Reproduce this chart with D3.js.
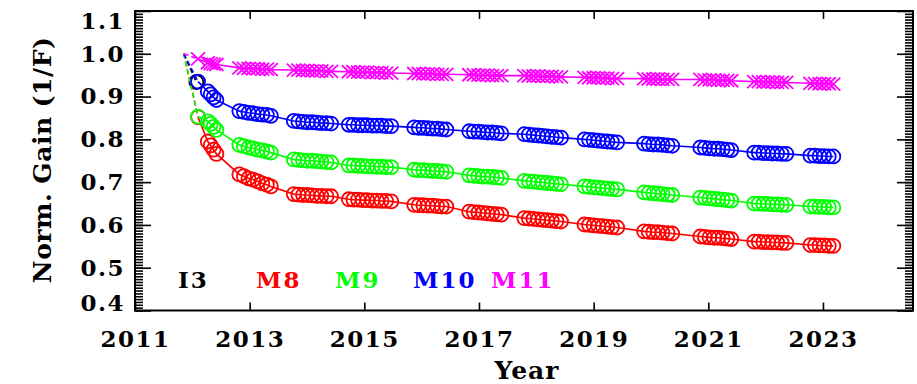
<!DOCTYPE html>
<html>
<head>
<meta charset="utf-8">
<script src="https://cdn.jsdelivr.net/npm/d3@7"></script>
<style>
body { margin: 0; background: #fff; }
svg text { font-family: "DejaVu Serif", serif; font-weight: bold; }
</style>
</head>
<body>
<script>
// launch point, all bands start at 1.0
var launchDate = 2011.85;
var launchGain = 1.0;

// lunar calibration dates (shared by all M bands), one line per season
var obsDates = [
    2012.10,
    2012.27, 2012.32, 2012.37, 2012.42,
    2012.82, 2012.90, 2012.98, 2013.06, 2013.14, 2013.22, 2013.30, 2013.37,
    2013.77, 2013.85, 2013.93, 2014.01, 2014.09, 2014.17, 2014.25, 2014.34, 2014.42,
    2014.73, 2014.81, 2014.89, 2014.97, 2015.05, 2015.14, 2015.22, 2015.30, 2015.38, 2015.47,
    2015.87, 2015.95, 2016.03, 2016.11, 2016.19, 2016.27, 2016.35, 2016.43,
    2016.83, 2016.91, 2016.99, 2017.07, 2017.15, 2017.23, 2017.31, 2017.39,
    2017.79, 2017.87, 2017.95, 2018.03, 2018.11, 2018.19, 2018.27, 2018.35, 2018.43,
    2018.84, 2018.92, 2019.00, 2019.08, 2019.16, 2019.24, 2019.32, 2019.41,
    2019.88, 2019.96, 2020.04, 2020.12, 2020.20, 2020.29, 2020.37,
    2020.86, 2020.94, 2021.02, 2021.10, 2021.17, 2021.25, 2021.33, 2021.40,
    2021.80, 2021.88, 2021.96, 2022.04, 2022.12, 2022.20, 2022.28, 2022.36,
    2022.78, 2022.86, 2022.94, 2023.02, 2023.10, 2023.18
];

var gainM8 = [
    0.852,
    0.795, 0.786, 0.776, 0.766,
    0.718, 0.714, 0.709, 0.706, 0.702, 0.697, 0.694, 0.690,
    0.672, 0.671, 0.670, 0.670, 0.669, 0.668, 0.668, 0.667, 0.667,
    0.660, 0.659, 0.659, 0.658, 0.658, 0.657, 0.657, 0.656, 0.656, 0.655,
    0.647, 0.646, 0.646, 0.645, 0.645, 0.644, 0.643, 0.643,
    0.631, 0.630, 0.629, 0.628, 0.627, 0.626, 0.625, 0.624,
    0.616, 0.615, 0.614, 0.613, 0.612, 0.611, 0.610, 0.609, 0.608,
    0.601, 0.600, 0.599, 0.598, 0.597, 0.596, 0.595, 0.594,
    0.585, 0.584, 0.583, 0.583, 0.582, 0.581, 0.580,
    0.573, 0.572, 0.571, 0.570, 0.570, 0.569, 0.568, 0.567,
    0.561, 0.561, 0.560, 0.560, 0.559, 0.559, 0.558, 0.558,
    0.553, 0.553, 0.552, 0.552, 0.551, 0.551
];

var gainM9 = [
    0.853,
    0.842, 0.836, 0.829, 0.822,
    0.787, 0.784, 0.781, 0.779, 0.776, 0.774, 0.772, 0.769,
    0.753, 0.752, 0.751, 0.750, 0.750, 0.749, 0.748, 0.747, 0.746,
    0.739, 0.739, 0.738, 0.738, 0.737, 0.737, 0.736, 0.736, 0.735, 0.735,
    0.729, 0.728, 0.728, 0.727, 0.726, 0.726, 0.725, 0.724,
    0.716, 0.715, 0.714, 0.713, 0.713, 0.712, 0.711, 0.710,
    0.703, 0.702, 0.701, 0.700, 0.699, 0.698, 0.697, 0.696, 0.695,
    0.690, 0.689, 0.688, 0.687, 0.686, 0.685, 0.684, 0.683,
    0.676, 0.675, 0.674, 0.673, 0.672, 0.671, 0.670,
    0.664, 0.663, 0.662, 0.661, 0.660, 0.659, 0.658, 0.657,
    0.650, 0.650, 0.649, 0.649, 0.648, 0.648, 0.647, 0.647,
    0.643, 0.643, 0.642, 0.642, 0.641, 0.641
];

var gainM10 = [
    0.935,
    0.912, 0.905, 0.898, 0.892,
    0.866, 0.864, 0.862, 0.861, 0.859, 0.858, 0.857, 0.855,
    0.843, 0.842, 0.841, 0.840, 0.840, 0.839, 0.838, 0.838, 0.837,
    0.834, 0.834, 0.833, 0.833, 0.833, 0.832, 0.832, 0.832, 0.831, 0.831,
    0.828, 0.827, 0.827, 0.826, 0.825, 0.825, 0.824, 0.823,
    0.819, 0.818, 0.818, 0.817, 0.816, 0.816, 0.815, 0.814,
    0.812, 0.811, 0.810, 0.809, 0.808, 0.807, 0.806, 0.805, 0.804,
    0.800, 0.799, 0.798, 0.797, 0.796, 0.795, 0.794, 0.793,
    0.790, 0.789, 0.788, 0.788, 0.787, 0.786, 0.785,
    0.781, 0.780, 0.779, 0.778, 0.778, 0.777, 0.776, 0.775,
    0.769, 0.769, 0.768, 0.768, 0.767, 0.767, 0.766, 0.766,
    0.762, 0.762, 0.761, 0.761, 0.760, 0.760
];

var gainM11 = [
    0.988,
    0.979, 0.977, 0.976, 0.975,
    0.967, 0.966, 0.966, 0.965, 0.965, 0.964, 0.964, 0.963,
    0.962, 0.962, 0.961, 0.961, 0.960, 0.960, 0.960, 0.959, 0.959,
    0.958, 0.958, 0.957, 0.957, 0.957, 0.956, 0.956, 0.956, 0.955, 0.955,
    0.954, 0.954, 0.953, 0.953, 0.953, 0.952, 0.952, 0.952,
    0.951, 0.951, 0.950, 0.950, 0.950, 0.949, 0.949, 0.949,
    0.949, 0.948, 0.948, 0.948, 0.947, 0.947, 0.947, 0.946, 0.946,
    0.945, 0.944, 0.944, 0.944, 0.943, 0.943, 0.942, 0.942,
    0.942, 0.941, 0.941, 0.941, 0.940, 0.940, 0.940,
    0.940, 0.939, 0.939, 0.939, 0.938, 0.938, 0.938, 0.937,
    0.935, 0.935, 0.934, 0.934, 0.934, 0.933, 0.933, 0.933,
    0.931, 0.931, 0.930, 0.930, 0.930, 0.929
];

// I3 only shows its first point (the rest sits under M10)
var i3Dates = [2012.07];
var gainI3 = [0.934];

var bandNames = ["I3", "M8", "M9", "M10", "M11"];
var xTickValues = [2011, 2013, 2015, 2017, 2019, 2021, 2023];
var yTickValues = [0.4, 0.5, 0.6, 0.7, 0.8, 0.9, 1.0, 1.1];

// styles
var colors = { I3: "#000000", M8: "#ff0000", M9: "#00ff00", M10: "#0000ff", M11: "#ff00ff" };
var W = 917, H = 384;
var plotL = 135, plotR = 913, plotT = 11, plotB = 310.5;

var xScale = d3.scaleLinear().domain([2011, 2024.57]).range([plotL, plotR]);
var yScale = d3.scaleLinear().domain([0.4, 1.1]).range([plotB, plotT]);

var svg = d3.select("body").append("svg")
    .attr("width", W)
    .attr("height", H);

// minor y ticks
var yMinor = d3.range(0, 106).map(function (i) { return 0.4 + i * (0.1 / 15); })
    .filter(function (v) { return v < 1.1; });

function styleAxis(g) {
    g.select(".domain").remove();
    g.selectAll("line").attr("stroke", "#000").attr("stroke-width", 1.6);
    g.selectAll("text").attr("fill", "#000").attr("font-size", 23)
        .style("letter-spacing", "1.5px");
}

svg.append("g").attr("transform", "translate(" + plotL + ",0)")
    .call(d3.axisLeft(yScale).tickValues(yMinor).tickSize(-8).tickFormat(""))
    .call(styleAxis);
svg.append("g").attr("transform", "translate(" + plotR + ",0)")
    .call(d3.axisRight(yScale).tickValues(yMinor).tickSize(-8).tickFormat(""))
    .call(styleAxis);
var yAxisG = svg.append("g").attr("transform", "translate(" + plotL + ",0)")
    .call(d3.axisLeft(yScale).tickValues(yTickValues).tickSize(-16).tickPadding(10)
        .tickFormat(d3.format(".1f")))
    .call(styleAxis);
// end labels are pulled inside the frame, as in the original plot
yAxisG.selectAll("text")
    .attr("dy", function (d) { return d >= 1.1 ? "0.75em" : (d <= 0.4 ? "-0.02em" : "0.32em"); });
svg.append("g").attr("transform", "translate(" + plotR + ",0)")
    .call(d3.axisRight(yScale).tickValues(yTickValues).tickSize(-16).tickFormat(""))
    .call(styleAxis);
svg.append("g").attr("transform", "translate(0," + plotB + ")")
    .call(d3.axisBottom(xScale).tickValues(xTickValues).tickSize(-8).tickPadding(20)
        .tickFormat(d3.format("d")))
    .call(styleAxis);
svg.append("g").attr("transform", "translate(0," + plotT + ")")
    .call(d3.axisTop(xScale).tickValues(xTickValues).tickSize(-8).tickFormat(""))
    .call(styleAxis);

// frame
svg.append("rect")
    .attr("x", plotL).attr("y", plotT)
    .attr("width", plotR - plotL).attr("height", plotB - plotT)
    .attr("fill", "none").attr("stroke", "#000").attr("stroke-width", 2);

// axis titles
svg.append("text")
    .attr("x", (plotL + plotR) / 2 + 3).attr("y", 379)
    .attr("text-anchor", "middle").attr("font-size", 25)
    .style("letter-spacing", "1px")
    .text("Year");

svg.append("text")
    .attr("transform", "translate(51,160) rotate(-90)")
    .attr("text-anchor", "middle").attr("font-size", 25)
    .style("letter-spacing", "0.5px")
    .text("Norm. Gain (1/F)");

// series
var lineGen = d3.line()
    .x(function (d) { return xScale(d[0]); })
    .y(function (d) { return yScale(d[1]); });

var xMarker = "M-7,-6.5L7,6.5M-7,6.5L7,-6.5";

function drawBand(name, dates, gains, marker) {
    var pts = dates.map(function (d, i) { return [d, gains[i]]; });
    var col = colors[name];
    var g = svg.append("g");
    g.append("path")
        .datum([[launchDate, launchGain], pts[0]])
        .attr("d", lineGen)
        .attr("fill", "none").attr("stroke", col)
        .attr("stroke-width", 1.6).attr("stroke-dasharray", "5,3");
    if (pts.length > 1) {
        g.append("path")
            .datum(pts)
            .attr("d", lineGen)
            .attr("fill", "none").attr("stroke", col)
            .attr("stroke-width", 1.6);
    }
    if (marker === "x") {
        g.selectAll("path.mk").data(pts).enter().append("path")
            .attr("class", "mk")
            .attr("d", xMarker)
            .attr("transform", function (d) {
                return "translate(" + xScale(d[0]) + "," + yScale(d[1]) + ")";
            })
            .attr("fill", "none").attr("stroke", col).attr("stroke-width", 1.8);
    } else {
        g.selectAll("circle").data(pts).enter().append("circle")
            .attr("cx", function (d) { return xScale(d[0]); })
            .attr("cy", function (d) { return yScale(d[1]); })
            .attr("r", 7)
            .attr("fill", "none").attr("stroke", col).attr("stroke-width", 1.8);
    }
}

drawBand("I3", i3Dates, gainI3, "o");
drawBand("M8", obsDates, gainM8, "o");
drawBand("M9", obsDates, gainM9, "o");
drawBand("M10", obsDates, gainM10, "o");
drawBand("M11", obsDates, gainM11, "x");

// legend: coloured band names
var legendX = [178, 256, 335, 413, 491];
svg.selectAll("text.legend").data(bandNames).enter().append("text")
    .attr("class", "legend")
    .attr("x", function (d, i) { return legendX[i]; })
    .attr("y", 288)
    .attr("font-size", 23)
    .style("letter-spacing", "2px")
    .attr("fill", function (d) { return colors[d]; })
    .text(function (d) { return d; });
</script>
</body>
</html>
